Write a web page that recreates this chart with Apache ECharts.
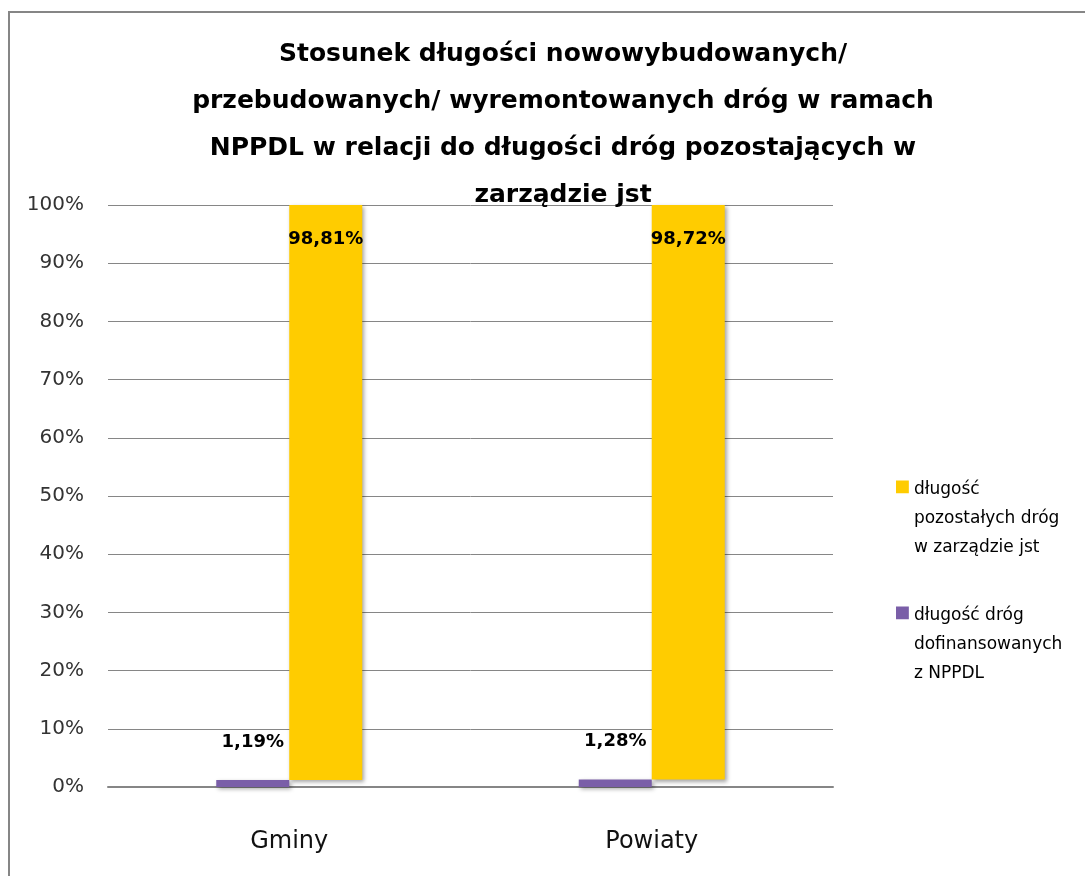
<!DOCTYPE html>
<html>
<head>
<meta charset="utf-8">
<script src="https://cdn.jsdelivr.net/npm/echarts@6/dist/echarts.min.js"></script>
<style>
  html, body { margin: 0; padding: 0; background: #fff; }
  #chart { width: 1085px; height: 876px; }
</style>
</head>
<body>
<div id="chart"></div>
<script>
// Share of road length: built/rebuilt/renovated under NPPDL vs. remaining roads
const categories = ['Gminy', 'Powiaty'];
const fundedShare = [1.19, 1.28];      // długość dróg dofinansowanych z NPPDL
const remainingShare = [98.81, 98.72]; // długość pozostałych dróg w zarządzie jst
const yTicks = { min: 0, max: 100, interval: 10 };

const fundedName = 'długość dróg\ndofinansowanych\nz NPPDL';
const remainingName = 'długość\npozostałych dróg\nw zarządzie jst';

const fmtPct = v => v.toFixed(2).replace('.', ',') + '%';
const font = '"DejaVu Sans", "Liberation Sans", sans-serif';
const barShadow = {
  shadowColor: 'rgba(0,0,0,0.35)',
  shadowBlur: 4,
  shadowOffsetX: 2,
  shadowOffsetY: 2
};
// legend swatch sits beside the first text line: a 12px square plus a
// near-invisible dot that stretches the icon box down to the block height
const swatchIcon = 'path://M0,0h12v12h-12z M0,71h0.01v0.01h-0.01z';

const chart = echarts.init(document.getElementById('chart'), null, { renderer: 'canvas' });
chart.setOption({
  animation: false,
  backgroundColor: '#ffffff',
  title: {
    text: 'Stosunek długości nowowybudowanych/\nprzebudowanych/ wyremontowanych dróg w ramach\nNPPDL w relacji do długości dróg pozostających w\nzarządzie jst',
    left: 558,
    top: 26,
    textAlign: 'center',
    textStyle: {
      fontFamily: font,
      fontSize: 25,
      fontWeight: 'bold',
      color: '#000',
      lineHeight: 47
    }
  },
  graphic: [
    {
      type: 'polyline',
      shape: { points: [[9, 876], [9, 12], [1085, 12]] },
      style: { stroke: '#868686', lineWidth: 2, fill: null },
      silent: true
    }
  ],
  legend: {
    orient: 'vertical',
    left: 891,
    top: 470,
    icon: swatchIcon,
    itemWidth: 13,
    itemHeight: 76,
    itemGap: 39,
    data: [remainingName, fundedName],
    textStyle: {
      fontFamily: font,
      fontSize: 17,
      color: '#000',
      lineHeight: 29
    }
  },
  grid: { left: 108, right: 252, top: 205, bottom: 89 },
  xAxis: {
    type: 'category',
    data: categories,
    axisTick: { show: false },
    axisLine: { lineStyle: { color: '#868686', width: 2 } },
    axisLabel: {
      fontFamily: font,
      fontSize: 24,
      color: '#111',
      margin: 43
    }
  },
  yAxis: {
    type: 'value',
    min: yTicks.min,
    max: yTicks.max,
    interval: yTicks.interval,
    axisLine: { show: false },
    axisTick: { show: false },
    splitLine: { lineStyle: { color: '#868686', width: 1 } },
    axisLabel: {
      formatter: '{value}%',
      fontFamily: font,
      fontSize: 20,
      color: '#333',
      margin: 24
    }
  },
  series: [
    {
      name: fundedName,
      type: 'bar',
      data: fundedShare,
      barWidth: 73,
      barGap: '0%',
      itemStyle: Object.assign({ color: '#7a5ea8' }, barShadow),
      label: {
        show: true,
        position: 'top',
        distance: 29,
        formatter: p => fmtPct(p.value),
        fontFamily: font,
        fontSize: 18,
        fontWeight: 'bold',
        color: '#000'
      }
    },
    {
      name: 'base',
      type: 'bar',
      stack: 'rest',
      data: fundedShare,
      barWidth: 73,
      barGap: '0%',
      silent: true,
      itemStyle: { color: 'rgba(0,0,0,0)' }
    },
    {
      name: remainingName,
      type: 'bar',
      stack: 'rest',
      data: remainingShare,
      barWidth: 73,
      barGap: '0%',
      itemStyle: Object.assign({ color: '#ffcc00' }, barShadow),
      label: {
        show: true,
        position: 'insideTop',
        distance: 25,
        formatter: p => fmtPct(p.value),
        fontFamily: font,
        fontSize: 18,
        fontWeight: 'bold',
        color: '#000'
      }
    }
  ]
});
</script>
</body>
</html>
